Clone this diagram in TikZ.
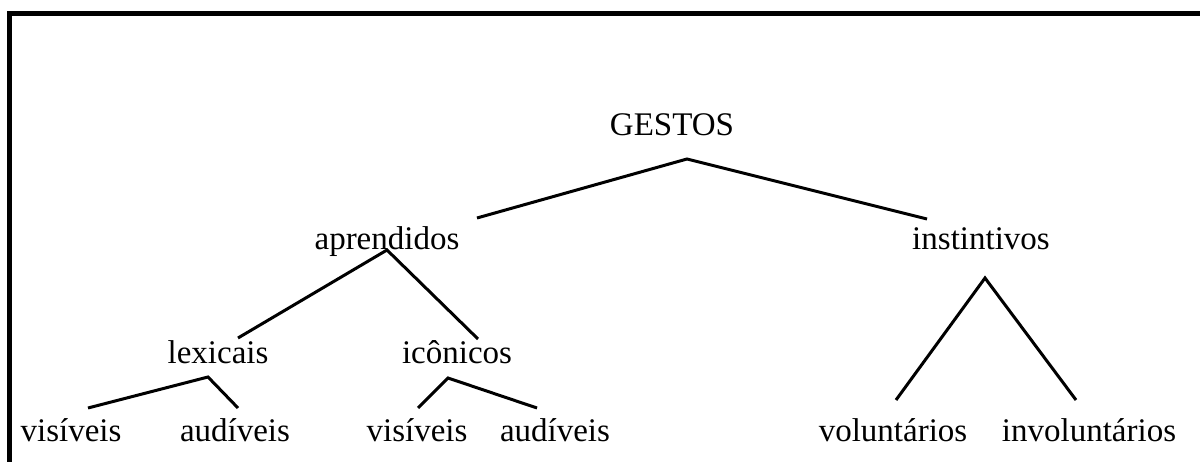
\documentclass[tikz,border=0pt]{standalone}
\usepackage{fontspec}
\setmainfont{Liberation Serif}
\begin{document}
\begin{tikzpicture}[x=1pt,y=-1pt,
  lbl/.style={anchor=base,inner sep=0pt,font=\fontsize{33}{39}\selectfont},
  branch/.style={line width=3pt,line join=miter},
  frame/.style={line width=5pt}]
\useasboundingbox (0,0) rectangle (1200,462);
\fill[white] (0,0) rectangle (1200,462);
% open frame: top and left edges
\draw[frame] (9.5,462) -- (9.5,13.5) -- (1200,13.5);

% labels
\node[lbl] (gestos) at (672,136) {GESTOS};
\node[lbl] (apr) at (387,250) {aprendidos};
\node[lbl] (inst) at (981,250) {instintivos};
\node[lbl] (lex) at (218,364) {lexicais};
\node[lbl] (ico) at (457,364) {icônicos};
\node[lbl] (vis1) at (71,441) {visíveis};
\node[lbl] (aud1) at (235,441) {audíveis};
\node[lbl] (vis2) at (417,441) {visíveis};
\node[lbl] (aud2) at (555,441) {audíveis};
\node[lbl] (vol) at (893,441) {voluntários};
\node[lbl] (invol) at (1089,441) {involuntários};

% branch points
\coordinate (gestos-top) at (687,159);
\coordinate (gestos-l) at (477,218);
\coordinate (gestos-r) at (927,219);
\coordinate (apr-top) at (387,250);
\coordinate (apr-l) at (238,338);
\coordinate (apr-r) at (478,339);
\coordinate (lex-top) at (208,377);
\coordinate (lex-l) at (88,408);
\coordinate (lex-r) at (238,408);
\coordinate (ico-top) at (448,378);
\coordinate (ico-l) at (418,408);
\coordinate (ico-r) at (537,408);
\coordinate (inst-top) at (985,278);
\coordinate (inst-l) at (896,400);
\coordinate (inst-r) at (1076,400);

\draw[branch] (gestos-l) -- (gestos-top) -- (gestos-r);
\draw[branch] (apr-l) -- (apr-top) -- (apr-r);
\draw[branch] (lex-l) -- (lex-top) -- (lex-r);
\draw[branch] (ico-l) -- (ico-top) -- (ico-r);
\draw[branch] (inst-l) -- (inst-top) -- (inst-r);
\end{tikzpicture}
\end{document}
